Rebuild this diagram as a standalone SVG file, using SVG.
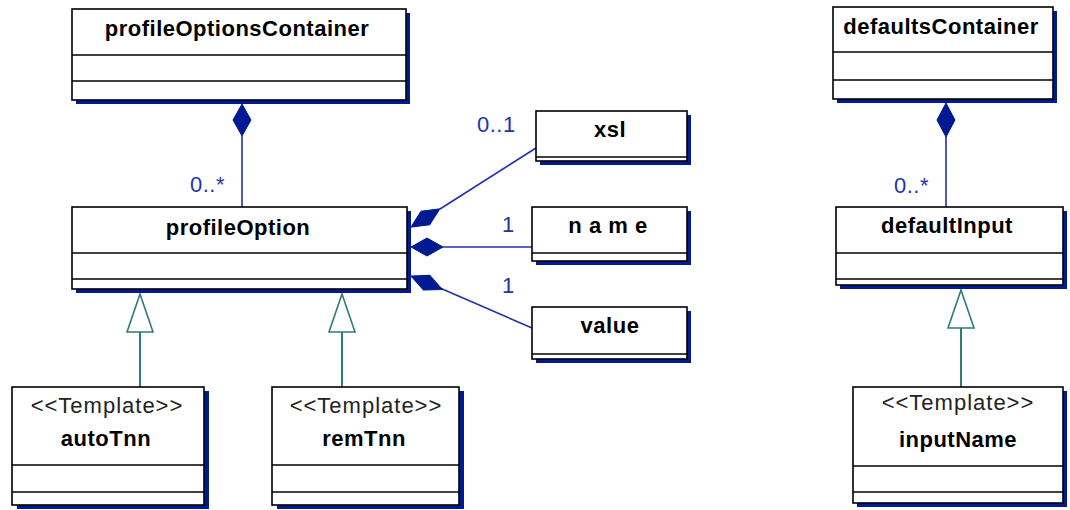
<svg xmlns="http://www.w3.org/2000/svg" width="1070" height="510" viewBox="0 0 1070 510">
<style>
.box{fill:#fff;stroke:#000;stroke-width:1.6}
.sh{fill:#001a94}
.div{stroke:#000;stroke-width:1.6;fill:none}
.nm{font-family:"Liberation Sans",Arial,sans-serif;font-weight:bold;font-size:22px;letter-spacing:0.5px;fill:#000;text-anchor:middle}
.st{font-family:"Liberation Sans",Arial,sans-serif;font-size:22px;letter-spacing:1px;fill:#222;text-anchor:middle}
.ml{font-family:"Liberation Sans",Arial,sans-serif;font-size:22px;letter-spacing:0.5px;fill:#2233aa}
.assoc{stroke:#2233aa;stroke-width:1.6;fill:none}
.dia{fill:#001a94;stroke:#001a94;stroke-width:1}
.gen{stroke:#2e7b78;stroke-width:2;fill:none}
.tri{fill:#fff;stroke:#2e7b78;stroke-width:1.6}
</style>
<rect width="1070" height="510" fill="#fff"/>
<g id="connectors">
  <line class="assoc" x1="242" y1="136" x2="242" y2="207"/>
  <polygon class="dia" points="242,104 251,120 242,136 233,120"/>
  <line class="assoc" x1="440" y1="209" x2="536" y2="148"/>
  <polygon class="dia" transform="translate(411,227) rotate(-32.3)" points="0,0 17,-8 34,0 17,8"/>
  <line class="assoc" x1="443" y1="247" x2="532" y2="247"/>
  <polygon class="dia" points="411,247 427,238 443,247 427,256"/>
  <line class="assoc" x1="440" y1="288" x2="532" y2="328"/>
  <polygon class="dia" transform="translate(411,276) rotate(23.3)" points="0,0 17,-8 34,0 17,8"/>
  <line class="assoc" x1="946" y1="136" x2="946" y2="207"/>
  <polygon class="dia" points="946,103 955,120 946,137 937,120"/>
  <line class="gen" x1="140" y1="332" x2="140" y2="387"/>
  <polygon class="tri" points="140,294 153,332 127,332"/>
  <line class="gen" x1="342" y1="332" x2="342" y2="387"/>
  <polygon class="tri" points="342,294 355,332 329,332"/>
  <line class="gen" x1="961" y1="328" x2="961" y2="387"/>
  <polygon class="tri" points="961,290 974,328 948,328"/>
  <text class="ml" x="190" y="192">0..*</text>
  <text class="ml" x="477" y="132">0..1</text>
  <text class="ml" x="502" y="232">1</text>
  <text class="ml" x="502" y="293">1</text>
  <text class="ml" x="894" y="193">0..*</text>
</g>
<g id="profileOptionsContainer">
  <rect class="sh" x="76" y="13" width="334" height="91"/>
  <rect class="box" x="72" y="9" width="334" height="91"/>
  <line class="div" x1="72" y1="55" x2="406" y2="55"/>
  <line class="div" x1="72" y1="81" x2="406" y2="81"/>
  <text class="nm" x="237" y="36">profileOptionsContainer</text>
</g>
<g id="profileOption">
  <rect class="sh" x="76" y="211" width="335" height="82"/>
  <rect class="box" x="72" y="207" width="335" height="82"/>
  <line class="div" x1="72" y1="253" x2="407" y2="253"/>
  <line class="div" x1="72" y1="279" x2="407" y2="279"/>
  <text class="nm" x="238" y="235">profileOption</text>
</g>
<g id="xsl">
  <rect class="sh" x="540" y="115" width="151" height="50"/>
  <rect class="box" x="536" y="111" width="151" height="50"/>
  <line class="div" x1="536" y1="157" x2="687" y2="157"/>
  <text class="nm" x="610" y="137">xsl</text>
</g>
<g id="name">
  <rect class="sh" x="536" y="211" width="155" height="54"/>
  <rect class="box" x="532" y="207" width="155" height="54"/>
  <line class="div" x1="532" y1="253" x2="687" y2="253"/>
  <text class="nm" x="608" y="233">n a m e</text>
</g>
<g id="value">
  <rect class="sh" x="536" y="311" width="155" height="52"/>
  <rect class="box" x="532" y="307" width="155" height="52"/>
  <line class="div" x1="532" y1="354" x2="687" y2="354"/>
  <text class="nm" x="610" y="333">value</text>
</g>
<g id="autoTnn">
  <rect class="sh" x="17" y="391" width="192" height="118"/>
  <rect class="box" x="12" y="387" width="192" height="118"/>
  <line class="div" x1="12" y1="465" x2="204" y2="465"/>
  <line class="div" x1="12" y1="492" x2="204" y2="492"/>
  <text class="st" x="107" y="413">&lt;&lt;Template&gt;&gt;</text>
  <text class="nm" x="106" y="446">autoTnn</text>
</g>
<g id="remTnn">
  <rect class="sh" x="277" y="391" width="187" height="118"/>
  <rect class="box" x="272" y="387" width="187" height="118"/>
  <line class="div" x1="272" y1="465" x2="459" y2="465"/>
  <line class="div" x1="272" y1="492" x2="459" y2="492"/>
  <text class="st" x="366" y="413">&lt;&lt;Template&gt;&gt;</text>
  <text class="nm" x="364" y="446">remTnn</text>
</g>
<g id="defaultsContainer">
  <rect class="sh" x="837" y="11" width="220" height="92"/>
  <rect class="box" x="833" y="7" width="220" height="92"/>
  <line class="div" x1="833" y1="52" x2="1053" y2="52"/>
  <line class="div" x1="833" y1="80" x2="1053" y2="80"/>
  <text class="nm" x="941" y="34">defaultsContainer</text>
</g>
<g id="defaultInput">
  <rect class="sh" x="840" y="211" width="227" height="78"/>
  <rect class="box" x="836" y="207" width="227" height="78"/>
  <line class="div" x1="836" y1="253" x2="1063" y2="253"/>
  <line class="div" x1="836" y1="279" x2="1063" y2="279"/>
  <text class="nm" x="947" y="233">defaultInput</text>
</g>
<g id="inputName">
  <rect class="sh" x="857" y="391" width="210" height="116"/>
  <rect class="box" x="853" y="387" width="210" height="116"/>
  <line class="div" x1="853" y1="466" x2="1063" y2="466"/>
  <line class="div" x1="853" y1="492" x2="1063" y2="492"/>
  <text class="st" x="958" y="410">&lt;&lt;Template&gt;&gt;</text>
  <text class="nm" x="958" y="447">inputName</text>
</g>
</svg>
